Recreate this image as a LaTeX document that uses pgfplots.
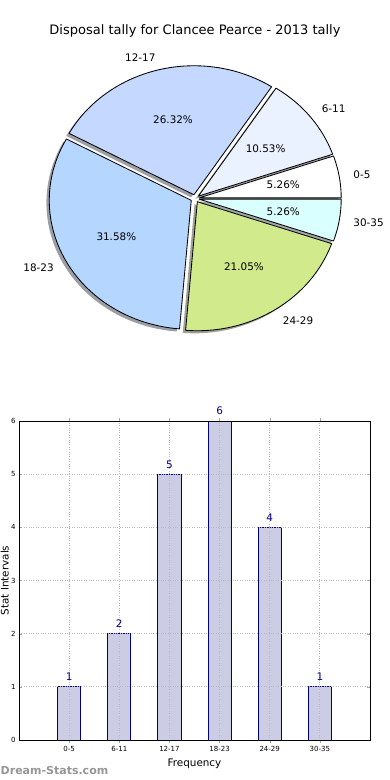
\documentclass[border=0pt]{standalone}
\usepackage{pgfplots}
\pgfplotsset{compat=1.18}
\usepackage{fontspec}
\setmainfont{DejaVu Sans}
\definecolor{c05}{RGB}{255,255,255}
\definecolor{c611}{RGB}{234,241,255}
\definecolor{c1217}{RGB}{197,216,255}
\definecolor{c1823}{RGB}{180,214,255}
\definecolor{c2429}{RGB}{208,234,140}
\definecolor{c3035}{RGB}{218,255,255}
\definecolor{barfill}{RGB}{204,204,229}
\definecolor{navy}{RGB}{0,0,128}
\definecolor{wm}{RGB}{150,150,150}

% pie data: counts per class (total 19)
\def\total{19}
% #1 cumulative start, #2 cumulative end, #3 colour
\newcommand\pieshadow[3]{%
  \pgfplotsextra{%
    \pgfmathsetmacro\sA{360*#1/\total}%
    \pgfmathsetmacro\eA{360*#2/\total}%
    \pgfmathsetmacro\mA{(\sA+\eA)/2}%
    \pgfmathsetmacro\ex{0.03*cos(\mA)-0.02}%
    \pgfmathsetmacro\ey{0.03*sin(\mA)-0.02}%
    \pgfmathsetmacro\px{\ex+cos(\sA)}%
    \pgfmathsetmacro\py{\ey+sin(\sA)}%
    \fill[#3!30!black, fill opacity=0.5] (axis cs:\ex,\ey) -- (axis cs:\px,\py)
      arc[start angle=\sA, end angle=\eA, x radius=142pt, y radius=129pt] -- cycle;
  }}
% #1 start, #2 end, #3 colour, #4 label, #5 anchor, #6 count
\newcommand\pieslice[6]{%
  \pgfplotsextra{%
    \pgfmathsetmacro\sA{360*#1/\total}%
    \pgfmathsetmacro\eA{360*#2/\total}%
    \pgfmathsetmacro\mA{(\sA+\eA)/2}%
    \pgfmathsetmacro\ex{0.03*cos(\mA)}%
    \pgfmathsetmacro\ey{0.03*sin(\mA)}%
    \pgfmathsetmacro\px{\ex+cos(\sA)}%
    \pgfmathsetmacro\py{\ey+sin(\sA)}%
    \filldraw[fill=#3, draw=black, line width=0.85pt, line join=round] (axis cs:\ex,\ey) -- (axis cs:\px,\py)
      arc[start angle=\sA, end angle=\eA, x radius=142pt, y radius=129pt] -- cycle;
    \pgfmathsetmacro\lx{1.13*cos(\mA)}%
    \pgfmathsetmacro\ly{1.13*sin(\mA)}%
    \pgfmathsetmacro\tx{0.63*cos(\mA)}%
    \pgfmathsetmacro\ty{0.63*sin(\mA)}%
    \pgfmathsetmacro\pct{100*#6/\total}%
    \node[anchor=#5, inner sep=0pt, font=\fontsize{10.4}{12}\selectfont] at (axis cs:\lx,\ly) {#4};
    \node[inner sep=0pt, font=\fontsize{10.4}{12}\selectfont] at (axis cs:\tx,\ty) {\pgfmathprintnumber[fixed,fixed zerofill,precision=2,assume math mode=true]{\pct}\%};
  }}

\begin{document}
\begin{tikzpicture}[x=1pt,y=1pt]
\path[use as bounding box] (0,0) rectangle (390,-780);
\node[anchor=base, inner sep=0pt, font=\fontsize{13}{15}\selectfont] at (195,-34) {Disposal tally for Clancee Pearce - 2013 tally};

\begin{axis}[
  at={(195pt,-198.5pt)}, anchor=center,
  hide axis, scale only axis,
  width=426pt, height=387pt,
  xmin=-1.5, xmax=1.5, ymin=-1.5, ymax=1.5,
  clip=false,
]
\pieshadow{0}{1}{c05}
\pieshadow{1}{3}{c611}
\pieshadow{3}{8}{c1217}
\pieshadow{8}{14}{c1823}
\pieshadow{14}{18}{c2429}
\pieshadow{18}{19}{c3035}
\pieslice{0}{1}{c05}{0-5}{west}{1}
\pieslice{1}{3}{c611}{6-11}{west}{2}
\pieslice{3}{8}{c1217}{12-17}{east}{5}
\pieslice{8}{14}{c1823}{18-23}{east}{6}
\pieslice{14}{18}{c2429}{24-29}{west}{4}
\pieslice{18}{19}{c3035}{30-35}{west}{1}
\end{axis}

\begin{axis}[
  at={(19pt,-740pt)}, anchor=south west, scale only axis,
  width=351pt, height=319pt,
  xmin=-1, xmax=6, ymin=0, ymax=6,
  xtick={0,...,5}, xticklabels={0-5,6-11,12-17,18-23,24-29,30-35},
  ytick={0,...,6},
  /pgf/number format/assume math mode=true,
  tick label style={font=\fontsize{7}{8}\selectfont},
  grid=major, grid style={gray!55, dotted, line width=0.8pt},
  tick align=inside, major tick length=3pt, tick style={gray!70},
  axis line style={black, line width=0.9pt},
  xlabel={Frequency}, ylabel={Stat Intervals},
  label style={font=\fontsize{10.4}{12}\selectfont},
  ylabel style={at={(axis description cs:-0.0295,0.5)}, anchor=base},
  ybar, bar width=0.46,
  nodes near coords,
  every node near coord/.append style={text=navy, font=\fontsize{10.4}{12}\selectfont, anchor=south, inner sep=0pt, yshift=5.5pt},
  clip=false, axis on top,
]
\addplot[fill=barfill, draw=navy, line width=0.9pt] coordinates {(0,1) (1,2) (2,5) (3,6) (4,4) (5,1)};
\end{axis}

\node[anchor=base west, inner sep=0pt, text=wm, font=\fontsize{11}{13}\selectfont\bfseries] at (0.5,-774) {Dream-Stats.com};
\end{tikzpicture}
\end{document}
